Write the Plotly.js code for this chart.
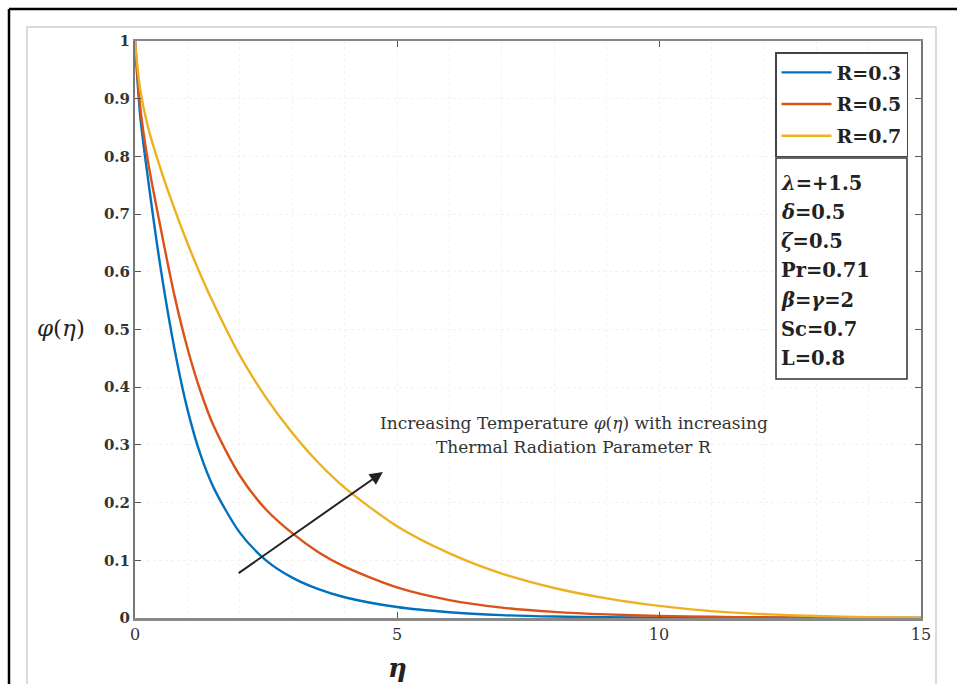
<!DOCTYPE html>
<html>
<head>
<meta charset="utf-8">
<script src="https://cdn.plot.ly/plotly-3.0.1.min.js"></script>
<style>html,body{margin:0;padding:0;background:#fff;}#chart{width:957px;height:684px;}</style>
</head>
<body>
<div id="chart"></div>
<script>
// η sample points
const eta = [0, 0.1, 0.25, 0.5, 0.75, 1, 1.25, 1.5, 2, 2.5, 3, 3.5, 4, 5, 6, 7, 8, 9, 10, 11, 12, 13, 14, 15];
// φ(η) for each R
const phiR03 = [1, 0.87, 0.76, 0.6, 0.468, 0.362, 0.283, 0.226, 0.148, 0.1, 0.07, 0.05, 0.036, 0.019, 0.01, 0.005, 0.0025, 0.0012, 0.0006, 0.0003, 0.0001, 0, 0, 0];
const phiR05 = [1, 0.885, 0.79, 0.671, 0.56, 0.468, 0.393, 0.333, 0.247, 0.188, 0.147, 0.114, 0.089, 0.053, 0.031, 0.018, 0.0106, 0.0062, 0.0036, 0.0021, 0.0012, 0.0006, 0.0003, 0.0001];
const phiR07 = [1, 0.915, 0.85, 0.775, 0.71, 0.65, 0.595, 0.545, 0.455, 0.382, 0.321, 0.269, 0.226, 0.159, 0.112, 0.077, 0.052, 0.034, 0.021, 0.012, 0.0067, 0.0035, 0.0015, 0.0004];
const seriesNames = ["R=0.3", "R=0.5", "R=0.7"];
const seriesColors = ["#0072BD", "#D95319", "#EDB120"];
const xTicks = [0, 5, 10, 15];
const yTicks = [0, 0.1, 0.2, 0.3, 0.4, 0.5, 0.6, 0.7, 0.8, 0.9, 1];
const paramLabels = ["<i>λ</i>=+1.5", "<i>δ</i>=0.5", "<i>ζ</i>=0.5", "Pr=0.71", "<i>β</i>=<i>γ</i>=2", "Sc=0.7", "L=0.8"];
const noteLines = ["Increasing Temperature <i>φ</i>(<i>η</i>) with increasing", "Thermal Radiation Parameter R"];

const W = 957, H = 684;
const M = {l: 135, r: 36, t: 41, b: 66};
const pw = W - M.l - M.r, ph = H - M.t - M.b;
const px = p => (p - M.l) / pw;       // pixel x -> paper
const py = p => (H - M.b - p) / ph;   // pixel y -> paper

const allY = [phiR03, phiR05, phiR07];
const traces = allY.map((ys, i) => ({
  x: eta, y: ys, type: 'scatter', mode: 'lines', name: seriesNames[i],
  legendgroup: 'g' + i,
  line: {color: seriesColors[i], width: 2.4, shape: 'spline', smoothing: 0.8}
}));

const serif = "DejaVu Serif, Liberation Serif, serif";
const annotations = [];
paramLabels.forEach((t, i) => {
  annotations.push({xref: 'paper', yref: 'paper', x: px(779), y: py(183 + i * 29.3),
    xanchor: 'left', yanchor: 'middle', showarrow: false, text: t,
    font: {family: serif, size: 19.5, color: '#222', weight: 'bold'}});
});
noteLines.forEach((t, i) => {
  annotations.push({xref: 'paper', yref: 'paper', x: px(574), y: py(423 + i * 24),
    xanchor: 'center', yanchor: 'middle', showarrow: false, text: t,
    font: {family: serif, size: 17, color: '#333'}});
});
// arrow
annotations.push({x: 4.73, y: 0.253, ax: 1.95, ay: 0.076, xref: 'x', yref: 'y', axref: 'x', ayref: 'y',
  text: '', showarrow: true, arrowhead: 2, arrowsize: 1.3, arrowwidth: 2, arrowcolor: '#222'});
// axis labels
annotations.push({xref: 'paper', yref: 'paper', x: px(61), y: py(328), xanchor: 'center', yanchor: 'middle', showarrow: false,
  text: '<i>φ</i>(<i>η</i>)', font: {family: serif, size: 23, color: '#222'}});
annotations.push({xref: 'paper', yref: 'paper', x: px(397), y: py(668), xanchor: 'center', yanchor: 'middle', showarrow: false,
  text: '<b><i>η</i></b>', font: {family: serif, size: 26, color: '#222'}});

const shapes = [
  // outer black frame (top & left)
  {type: 'line', xref: 'paper', yref: 'paper', x0: px(9), x1: px(960), y0: py(9), y1: py(9), line: {color: '#000', width: 2.5}},
  {type: 'line', xref: 'paper', yref: 'paper', x0: px(9), x1: px(9), y0: py(9), y1: py(690), line: {color: '#000', width: 2.5}},
  // inner light gray frame
  {type: 'rect', xref: 'paper', yref: 'paper', x0: px(27), x1: px(936), y0: py(27), y1: py(700), line: {color: '#cfcfcf', width: 1.5}},
  // parameter box
  {type: 'rect', xref: 'paper', yref: 'paper', x0: px(776), x1: px(907), y0: py(158), y1: py(379),
   line: {color: '#333', width: 1.5}, fillcolor: '#fff', layer: 'above'}
];

const layout = {
  width: W, height: H, margin: M, paper_bgcolor: '#fff', plot_bgcolor: '#fff',
  showlegend: true,
  legend: {x: px(775), y: py(52), xanchor: 'left', yanchor: 'top', bgcolor: '#fff',
    bordercolor: '#444', borderwidth: 1.5, itemwidth: 50, traceorder: 'grouped', tracegroupgap: 4,
    font: {family: serif, size: 19, color: '#222', weight: 'bold'}},
  xaxis: {range: [0, 15], tickvals: xTicks, ticktext: xTicks.map(String), ticks: 'inside', ticklen: 6,
    tickcolor: '#555', showline: true, mirror: 'ticks', linecolor: '#888', linewidth: 2.5,
    showgrid: false, zeroline: false,
    minor: {dtick: 1, showgrid: true, gridcolor: '#f2f2f2', griddash: 'dot', gridwidth: 1, ticks: ''},
    tickfont: {family: serif, size: 16, color: '#333'}},
  yaxis: {range: [0, 1], tickvals: yTicks, ticktext: yTicks.map(v => String(v)), ticks: 'inside', ticklen: 6,
    tickcolor: '#555', showline: true, mirror: 'ticks', linecolor: '#777', linewidth: 2,
    showgrid: true, gridcolor: '#f2f2f2', griddash: 'dot', gridwidth: 1, zeroline: false,
    tickfont: {family: serif, size: 15, color: '#333', weight: 'bold'}},
  annotations: annotations,
  shapes: shapes
};

Plotly.newPlot('chart', traces, layout, {staticPlot: true});
</script>
</body>
</html>
